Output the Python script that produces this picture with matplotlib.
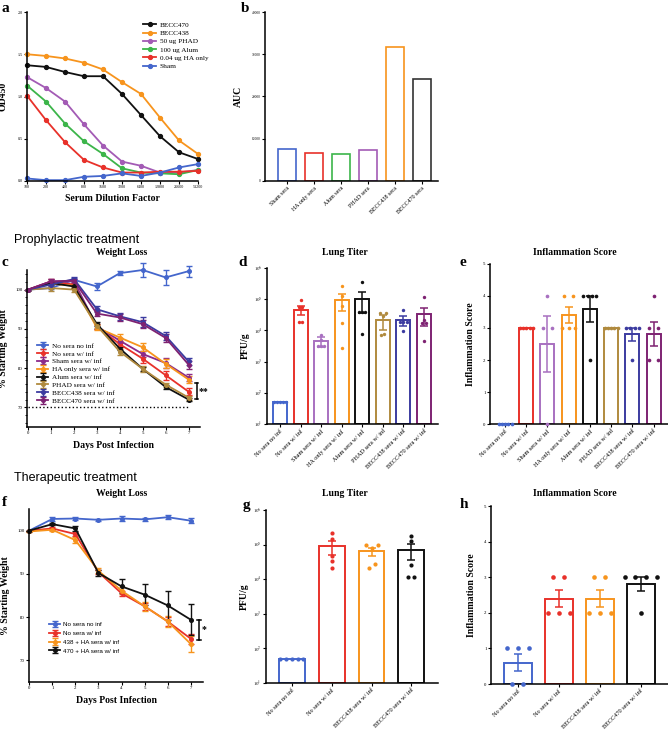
import matplotlib
matplotlib.use('Agg')
import matplotlib.pyplot as plt
import numpy as np

plt.rcParams['font.family'] = ['Liberation Serif', 'DejaVu Serif']
plt.rcParams['mathtext.fontset'] = 'stix'

# ---------------- data ----------------
# Panel a (ELISA)
dilutions = ['100', '200', '400', '800', '1600', '3200', '6400', '12800', '25600', '51200']
elisa_becc470 = [1.37, 1.35, 1.29, 1.24, 1.24, 1.03, 0.78, 0.53, 0.34, 0.26]
elisa_becc438 = [1.50, 1.48, 1.45, 1.40, 1.32, 1.17, 1.03, 0.75, 0.48, 0.32]
elisa_phad = [1.23, 1.10, 0.94, 0.67, 0.42, 0.23, 0.18, 0.10, 0.10, 0.13]
elisa_alum = [1.13, 0.94, 0.68, 0.47, 0.32, 0.15, 0.10, 0.09, 0.08, 0.13]
elisa_ha = [1.01, 0.72, 0.46, 0.25, 0.16, 0.10, 0.10, 0.11, 0.11, 0.12]
elisa_sham = [0.03, 0.01, 0.01, 0.05, 0.06, 0.09, 0.06, 0.10, 0.16, 0.20]
elisa_labels = ['BECC470', 'BECC438', '50 ug PHAD', '100 ug Alum', '0.04 ug HA only', 'Sham']

# Panel b (AUC)
auc_labels = ['Sham sera', 'HA only sera', 'Alum sera', 'PHAD sera', 'BECC438 sera', 'BECC470 sera']
auc_values = [7550, 6530, 6300, 7320, 31650, 24170]

# Panel c (prophylactic weight loss)
days = [0, 1, 2, 3, 4, 5, 6, 7]
c_labels = ['No sera no inf', 'No sera w/ inf', 'Sham sera w/ inf', 'HA only sera w/ inf',
            'Alum sera w/ inf', 'PHAD sera w/ inf', 'BECC438 sera w/ inf', 'BECC470 sera w/ inf']
c_nosera_noinf = [100, 100.4, 102.5, 100.8, 104.2, 105.0, 103.1, 104.7]
c_nosera_inf = [100, 102.1, 101.3, 90.6, 86.1, 82.4, 78.2, 74.0]
c_sham_inf = [100, 102.1, 102.1, 90.6, 87.0, 83.6, 81.3, 77.6]
c_ha_inf = [100, 101.5, 101.0, 90.3, 87.8, 85.3, 81.1, 77.1]
c_alum_inf = [100, 101.7, 100.8, 91.2, 85.0, 79.8, 75.2, 72.0]
c_phad_inf = [100, 100.4, 100.0, 90.8, 84.2, 79.8, 75.8, 72.5]
c_becc438_inf = [100, 101.3, 102.7, 95.0, 93.2, 91.7, 88.2, 81.7]
c_becc470_inf = [100, 102.1, 102.3, 93.9, 92.9, 91.2, 87.7, 80.9]
c_err_nosera_noinf = [0, 0.3, 0.5, 0.8, 0.6, 1.8, 1.8, 1.4]
c_err_nosera_inf = [0, 0.6, 0.5, 0.6, 0.7, 1.0, 1.1, 0.9]
c_err_sham_inf = [0, 0.7, 0.6, 0.6, 0.7, 0.8, 1.2, 1.0]
c_err_ha_inf = [0, 0.6, 0.5, 0.6, 0.8, 1.0, 1.1, 1.0]
c_err_alum_inf = [0, 0.5, 0.5, 0.5, 0.5, 0.5, 0.5, 0.4]
c_err_phad_inf = [0, 0.7, 0.6, 0.5, 0.8, 0.7, 0.5, 0.5]
c_err_becc438_inf = [0, 0.5, 0.5, 0.8, 0.9, 1.2, 1.0, 1.0]
c_err_becc470_inf = [0, 0.5, 0.5, 0.6, 0.8, 1.0, 1.0, 1.0]
c_sig_range = [72.1, 76.1]

# Panel d (prophylactic lung titer)
d_mean = [50, 46000, 4500, 96000, 100000, 21000, 21000, 34000]
d_sem = [0, 14000, 1500, 53000, 65000, 11000, 7000, 20000]
d_pts_nosera_noinf = [50, 50, 50, 50, 50]
d_pts_nosera_inf = [96000, 55000, 55000, 18700, 18700]
d_pts_sham = [7000, 3200, 3200, 3200, 5000]
d_pts_ha = [260000, 123000, 61000, 17700, 2700]
d_pts_alum = [355000, 40000, 40000, 38000, 7700]
d_pts_phad = [36000, 35000, 7200, 7800, 30000]
d_pts_becc438 = [46000, 18700, 18700, 18700, 9300]
d_pts_becc470 = [115000, 22000, 17000, 17000, 4700]

# Panel e (prophylactic inflammation score)
e_pts_nosera_noinf = [0, 0, 0, 0, 0]
e_pts_nosera_inf = [3, 3, 3, 3, 3]
e_pts_sham = [4, 3, 3, 0]
e_pts_ha = [4, 4, 3, 3, 3]
e_pts_alum = [4, 4, 4, 4, 2]
e_pts_phad = [3, 3, 3, 3, 3]
e_pts_becc438 = [3, 3, 3, 3, 2]
e_pts_becc470 = [4, 3, 3, 2, 2]

# Panel f (therapeutic weight loss)
f_labels = ['No sera no inf', 'No sera w/ inf', '438 + HA sera w/ inf', '470 + HA sera w/ inf']
f_nosera_noinf = [100, 102.7, 102.8, 102.5, 102.8, 102.6, 103.1, 102.3]
f_nosera_inf = [100, 100.5, 99.2, 90.4, 85.5, 82.5, 79.0, 75.0]
f_438_inf = [99.8, 100.2, 97.8, 90.7, 86.1, 82.5, 79.0, 73.8]
f_470_inf = [100, 101.5, 100.5, 90.2, 87.1, 85.2, 82.7, 79.4]
f_err_nosera_noinf = [0, 0.5, 0.3, 0.3, 0.5, 0.3, 0.5, 0.6]
f_err_nosera_inf = [0, 0.4, 0.5, 0.5, 0.6, 0.8, 1.0, 1.2]
f_err_438_inf = [0.2, 0.3, 0.7, 0.6, 0.8, 1.0, 1.3, 1.8]
f_err_470_inf = [0, 0.3, 0.5, 0.8, 1.6, 2.4, 3.3, 3.6]
f_sig_range = [74.8, 79.4]

# Panel g (therapeutic lung titer)
gh_labels = ['No sera no inf', 'No sera w/ inf', 'BECC438 sera w/ inf', 'BECC470 sera w/ inf']
g_mean = [50, 91000, 65000, 71000]
g_sem = [0, 40000, 17000, 36000]
g_pts_nosera_noinf = [50, 50, 50, 50, 50]
g_pts_nosera_inf = [222000, 142000, 48000, 34000, 21000]
g_pts_becc438 = [100000, 100000, 78000, 27000, 21000]
g_pts_becc470 = [183000, 131000, 26000, 11700, 11700]

# Panel h (therapeutic inflammation score)
h_pts_nosera_noinf = [1, 1, 1, 0, 0]
h_pts_nosera_inf = [3, 3, 2, 2, 2]
h_pts_becc438 = [3, 3, 2, 2, 2]
h_pts_becc470 = [3, 3, 3, 3, 2]

# ---------------- colours ----------------
BLUE = '#4466CC'
RED = '#E8312A'
ORANGE = '#F7941D'
GREEN = '#3CB54A'
PURPLE = '#A35BB5'
BLACK = '#111111'
MAGENTA = '#8B2A8B'
GOLD = '#B08A3E'
NAVY = '#3B3BA0'
PLUM = '#7E2272'

W, H = 668, 738
fig = plt.figure(figsize=(W / 100, H / 100), dpi=100)


def add_ax(l, t, r, b):
    return fig.add_axes([l / W, 1 - b / H, (r - l) / W, (b - t) / H])


def style_ax(ax, lw=1.1, size=3.5):
    for s in ['top', 'right']:
        ax.spines[s].set_visible(False)
    for s in ['left', 'bottom']:
        ax.spines[s].set_linewidth(lw)
    ax.tick_params(labelsize=size, width=0.8, length=2.2, pad=1)


def ftext(x, y, s, **kw):
    fig.text(x / W, 1 - y / H, s, **kw)


def spread_x(ax, xc, vals, diam, smax, wmax):
    """Cluster points that overlap vertically (in pixels) and spread each cluster horizontally."""
    tr = ax.transData
    ypx = np.array([tr.transform((xc, v))[1] for v in vals])
    xcpx = tr.transform((xc, vals[0]))[0]
    order = np.argsort(ypx)
    xs = np.zeros(len(vals))
    clusters = []
    cur = [order[0]]
    for i in order[1:]:
        if ypx[i] - ypx[cur[-1]] < diam:
            cur.append(i)
        else:
            clusters.append(cur)
            cur = [i]
    clusters.append(cur)
    for cl in clusters:
        n = len(cl)
        s = smax if n < 2 else min(smax, wmax / (n - 1))
        offs = [(j - (n - 1) / 2) * s for j in range(n)]
        slots = sorted(range(n), key=lambda j: abs(offs[j]))
        for idx, j in zip(cl, slots):
            xpx = xcpx + offs[j]
            xs[idx] = tr.inverted().transform((xpx, ypx[idx]))[0]
    return xs


def bar_dot_panel(ax, groups, colors, means, sems, bottom, width, diam, smax, wmax, ms):
    x = np.arange(len(groups))
    for i in range(len(groups)):
        ax.bar(x[i], means[i] - bottom, bottom=bottom, width=width, facecolor='white',
               edgecolor=colors[i], linewidth=1.4, zorder=1)
    for i in range(len(groups)):
        xs = spread_x(ax, x[i], groups[i], diam, smax, wmax)
        ax.scatter(xs, groups[i], s=ms, color=colors[i], zorder=3, linewidths=0, clip_on=False)
        if sems[i] > 0:
            ax.errorbar(x[i], means[i], yerr=sems[i], fmt='none', ecolor=colors[i],
                        elinewidth=1.1, capsize=3.2, capthick=1.1, zorder=4)


def sig_bracket(ax, xpos, yr, text):
    ax.plot([xpos, xpos], yr, color='k', lw=1.1, clip_on=False)
    ax.plot([xpos - 0.08, xpos + 0.08], [yr[0], yr[0]], color='k', lw=1.1, clip_on=False)
    ax.plot([xpos - 0.08, xpos + 0.08], [yr[1], yr[1]], color='k', lw=1.1, clip_on=False)
    ax.text(xpos + 0.1, (yr[0] + yr[1]) / 2, text, fontsize=7, fontweight='bold', va='center',
            ha='left')


# ---------------- panel a ----------------
ax = add_ax(27, 12, 198, 181)
style_ax(ax)
xa = np.arange(len(dilutions))
for vals, col, lab in zip([elisa_becc470, elisa_becc438, elisa_phad, elisa_alum, elisa_ha, elisa_sham],
                          [BLACK, ORANGE, PURPLE, GREEN, RED, BLUE], elisa_labels):
    ax.plot(xa, vals, '-o', color=col, lw=1.3, ms=2.8, label=lab, clip_on=False)
ax.set_xlim(0, len(dilutions) - 1)
ax.set_ylim(0, 2.0)
ax.set_yticks([0, 0.5, 1.0, 1.5, 2.0])
ax.set_yticklabels(['0.0', '0.5', '1.0', '1.5', '2.0'])
ax.tick_params(labelsize=3.0)
ax.set_xticks(xa)
ax.set_xticklabels(dilutions)
ax.set_ylabel('OD450', fontsize=7, fontweight='bold', labelpad=7)
ax.set_xlabel('Serum Dilution Factor', fontsize=7, fontweight='bold', labelpad=3)
ax.legend(loc='upper right', bbox_to_anchor=(1.1, 0.98), fontsize=5.2, frameon=False,
          handlelength=1.8, labelspacing=0.3, handletextpad=0.5)

# ---------------- panel b ----------------
ax = add_ax(265, 12, 438, 181)
style_ax(ax)
xb = np.arange(len(auc_labels))
ax.bar(xb, auc_values, width=0.67, facecolor='white',
       edgecolor=[BLUE, RED, GREEN, PURPLE, ORANGE, '#333333'], linewidth=1.2)
ax.set_xlim(-0.82, 5.6)
ax.set_ylim(0, 40000)
ax.set_yticks([0, 10000, 20000, 30000, 40000])
ax.tick_params(axis='y', labelsize=2.6)
ax.set_xticks(xb)
ax.set_xticklabels(auc_labels, rotation=45, ha='right', rotation_mode='anchor', fontsize=4.3)
ax.set_ylabel('AUC', fontsize=7, fontweight='bold', labelpad=6)

# ---------------- panel c ----------------
ax = add_ax(27, 270, 200, 427)
style_ax(ax)
c_series = [c_nosera_noinf, c_nosera_inf, c_sham_inf, c_ha_inf, c_alum_inf, c_phad_inf,
            c_becc438_inf, c_becc470_inf]
c_errs = [c_err_nosera_noinf, c_err_nosera_inf, c_err_sham_inf, c_err_ha_inf, c_err_alum_inf,
          c_err_phad_inf, c_err_becc438_inf, c_err_becc470_inf]
c_colors = [BLUE, RED, MAGENTA, ORANGE, BLACK, GOLD, NAVY, PLUM]
for vals, err, col, lab in zip(c_series, c_errs, c_colors, c_labels):
    ax.errorbar(days, vals, yerr=err, color=col, lw=1.3, marker='o', ms=2.6, capsize=2.5,
                elinewidth=1.0, capthick=1.0, label=lab, clip_on=False)
ax.hlines(70, days[0], days[-1], colors='k', linestyles=':', lw=1.0)
ax.set_xlim(-0.05, 7.5)
ax.set_ylim(65, 105)
ax.set_yticks([70, 80, 90, 100])
ax.set_yticks(np.arange(66, 105, 2), minor=True)
ax.tick_params(which='minor', length=1.2, width=0.6)
ax.set_xticks(days)
ax.set_ylabel('% Starting Weight', fontsize=7, fontweight='bold', labelpad=5)
ax.set_xlabel('Days Post Infection', fontsize=7, fontweight='bold', labelpad=4)
sig_bracket(ax, 7.35, c_sig_range, '**')
leg = ax.legend(loc='lower left', bbox_to_anchor=(0.04, 0.13), fontsize=5.2, frameon=False,
                handlelength=1.6, labelspacing=0.25, handletextpad=0.5, borderaxespad=0)

# ---------------- panel d ----------------
ax = add_ax(267, 268, 438, 424)
style_ax(ax)
ax.set_yscale('log')
ax.set_xlim(-0.63, 7.68)
ax.set_ylim(10, 1e6)
d_colors = [BLUE, RED, '#A870C0', ORANGE, BLACK, GOLD, NAVY, PLUM]
d_groups = [d_pts_nosera_noinf, d_pts_nosera_inf, d_pts_sham, d_pts_ha, d_pts_alum, d_pts_phad,
            d_pts_becc438, d_pts_becc470]
bar_dot_panel(ax, d_groups, d_colors, d_mean, d_sem, 10, 0.68, 3.3, 3.2, 12, 6)
ax.set_yticks([1e1, 1e2, 1e3, 1e4, 1e5, 1e6])
ax.set_yticklabels([r'$10^{%d}$' % k for k in range(1, 7)])
ax.minorticks_off()
ax.set_xticks(np.arange(len(c_labels)))
ax.set_xticklabels(c_labels, rotation=45, ha='right', rotation_mode='anchor', fontsize=4.5)
ax.set_ylabel('PFU/g', fontsize=7, fontweight='bold', labelpad=3)

# ---------------- panel e ----------------
ax = add_ax(490, 264, 668, 424)
style_ax(ax)
ax.set_xlim(-0.71, 7.68)
ax.set_ylim(0, 5)
e_groups = [e_pts_nosera_noinf, e_pts_nosera_inf, e_pts_sham, e_pts_ha, e_pts_alum, e_pts_phad,
            e_pts_becc438, e_pts_becc470]
e_means = [np.mean(g) for g in e_groups]
e_sems = [np.std(g, ddof=1) / np.sqrt(len(g)) for g in e_groups]
bar_dot_panel(ax, e_groups, d_colors, e_means, e_sems, 0, 0.66, 3.3, 9, 13, 7)
ax.set_yticks([0, 1, 2, 3, 4, 5])
ax.set_xticks(np.arange(len(c_labels)))
ax.set_xticklabels(c_labels, rotation=45, ha='right', rotation_mode='anchor', fontsize=4.5)
ax.set_ylabel('Inflammation Score', fontsize=7, fontweight='bold', labelpad=6)

# ---------------- panel f ----------------
ax = add_ax(29, 509, 203, 682)
style_ax(ax)
f_series = [f_nosera_noinf, f_nosera_inf, f_438_inf, f_470_inf]
f_errs = [f_err_nosera_noinf, f_err_nosera_inf, f_err_438_inf, f_err_470_inf]
f_colors = [BLUE, RED, ORANGE, BLACK]
for vals, err, col, lab in zip(f_series, f_errs, f_colors, f_labels):
    ax.errorbar(days, vals, yerr=err, color=col, lw=1.3, marker='o', ms=2.6, capsize=2.5,
                elinewidth=1.0, capthick=1.0, label=lab, clip_on=False)
ax.set_xlim(-0.01, 7.53)
ax.set_ylim(65, 105)
ax.set_yticks([70, 80, 90, 100])
ax.set_xticks(days)
ax.set_ylabel('% Starting Weight', fontsize=7, fontweight='bold', labelpad=5)
ax.set_xlabel('Days Post Infection', fontsize=7, fontweight='bold', labelpad=4)
sig_bracket(ax, 7.35, f_sig_range, '*')
ax.legend(loc='lower left', bbox_to_anchor=(0.1, 0.15), frameon=False,
          prop={'family': ['Liberation Sans', 'DejaVu Sans'], 'size': 4.5},
          handlelength=1.8, labelspacing=0.55, handletextpad=0.5, borderaxespad=0)

# ---------------- panel g ----------------
ax = add_ax(266, 510, 438, 683)
style_ax(ax)
ax.set_yscale('log')
ax.set_xlim(-0.65, 3.67)
ax.set_ylim(10, 1e6)
gh_colors = [BLUE, RED, ORANGE, BLACK]
g_groups = [g_pts_nosera_noinf, g_pts_nosera_inf, g_pts_becc438, g_pts_becc470]
bar_dot_panel(ax, g_groups, gh_colors, g_mean, g_sem, 10, 0.65, 4.0, 6, 23, 9)
ax.set_yticks([1e1, 1e2, 1e3, 1e4, 1e5, 1e6])
ax.set_yticklabels([r'$10^{%d}$' % k for k in range(1, 7)])
ax.minorticks_off()
ax.set_xticks(np.arange(len(gh_labels)))
ax.set_xticklabels(gh_labels, rotation=45, ha='right', rotation_mode='anchor', fontsize=4.5)
ax.set_ylabel('PFU/g', fontsize=7, fontweight='bold', labelpad=3)

# ---------------- panel h ----------------
ax = add_ax(491, 506, 668, 684)
style_ax(ax)
ax.set_xlim(-0.66, 3.67)
ax.set_ylim(0, 5)
h_groups = [h_pts_nosera_noinf, h_pts_nosera_inf, h_pts_becc438, h_pts_becc470]
h_means = [np.mean(g) for g in h_groups]
h_sems = [np.std(g, ddof=1) / np.sqrt(len(g)) for g in h_groups]
bar_dot_panel(ax, h_groups, gh_colors, h_means, h_sems, 0, 0.68, 4.0, 11, 32, 11)
ax.set_yticks([0, 1, 2, 3, 4, 5])
ax.set_xticks(np.arange(len(gh_labels)))
ax.set_xticklabels(gh_labels, rotation=45, ha='right', rotation_mode='anchor', fontsize=4.5)
ax.set_ylabel('Inflammation Score', fontsize=7, fontweight='bold', labelpad=6)

# ---------------- titles & labels ----------------
sans = ['Liberation Sans', 'DejaVu Sans']
ftext(14, 240, 'Prophylactic treatment', fontsize=9, family=sans, va='center', ha='left')
ftext(14, 478, 'Therapeutic treatment', fontsize=9, family=sans, va='center', ha='left')
for (x, y, s) in [(122, 252, 'Weight Loss'), (345, 252, 'Lung Titer'), (575, 252, 'Inflammation Score'),
                  (122, 494, 'Weight Loss'), (345, 494, 'Lung Titer'), (575, 494, 'Inflammation Score')]:
    ftext(x, y, s, fontsize=7, fontweight='bold', ha='center', va='center')
for (x, y, s) in [(5, 8, 'a'), (245, 8, 'b'), (5, 263, 'c'), (243, 262, 'd'), (463, 262, 'e'),
                  (4, 503, 'f'), (246, 506, 'g'), (464, 504, 'h')]:
    ftext(x, y, s, fontsize=11, fontweight='bold', ha='center', va='center')

fig.savefig('out.png', dpi=100)
